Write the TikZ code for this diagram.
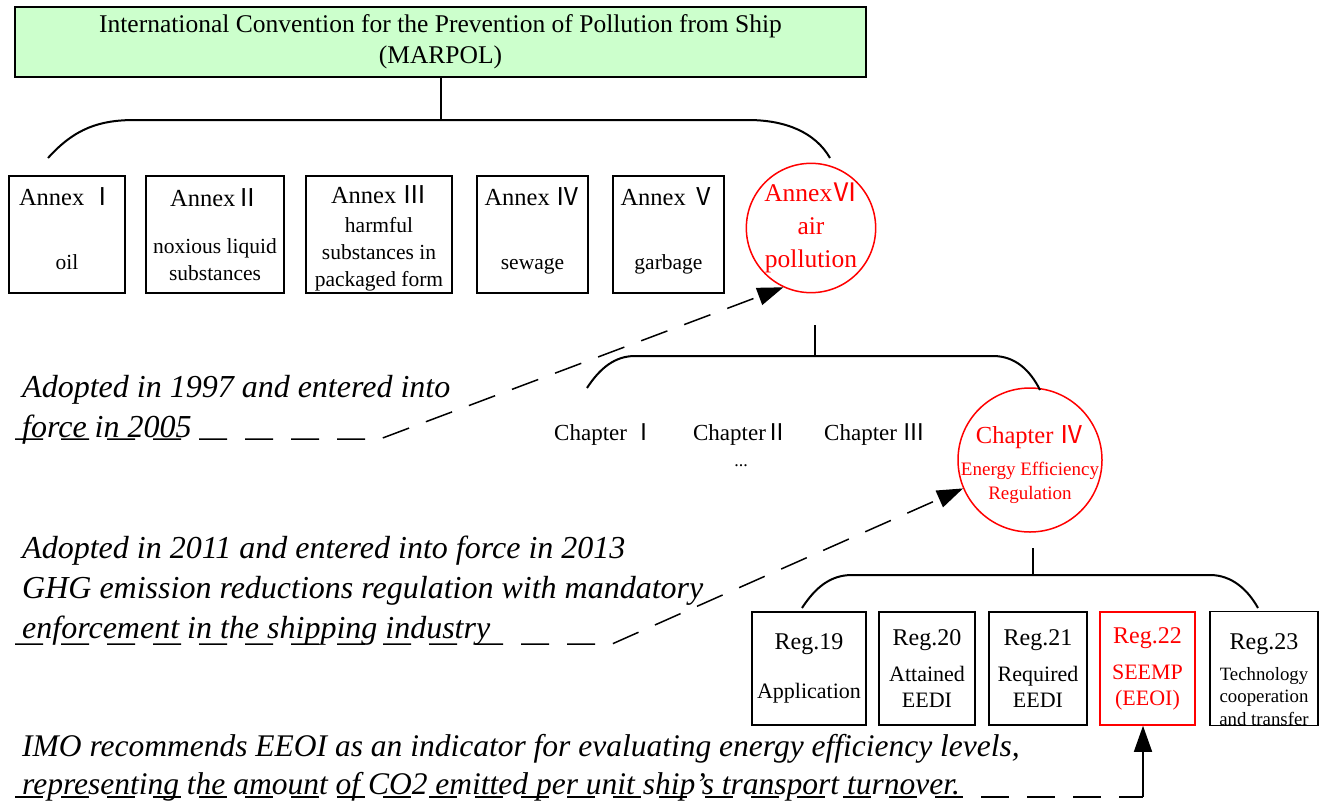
\documentclass[tikz,border=0pt]{standalone}
\usepackage{fontspec}
\setmainfont{Liberation Serif}
\newfontfamily\romfont{Noto Sans CJK SC}
\usetikzlibrary{arrows.meta}
\usetikzlibrary{positioning}
\definecolor{titlegreen}{RGB}{204,255,204}
\newcommand{\bigline}{\fontsize{24.5}{27}\selectfont}
\newcommand{\regline}{\fontsize{24}{28}\selectfont}
\tikzstyle{title_box} = [
    draw=black,
    fill=titlegreen,
    line width=1.5pt,
    align=center,
    inner sep=0pt,
    minimum width=851pt,
    minimum height=70pt,
    font=\fontsize{25.5}{31}\selectfont
]
\tikzstyle{annex_box} = [
    draw=black,
    line width=1.5pt,
    align=center,
    inner sep=0pt,
    minimum height=117pt,
    font=\fontsize{21.5}{27}\selectfont
]
\tikzstyle{reg_box} = [
    draw=black,
    line width=1.5pt,
    align=center,
    inner sep=0pt,
    minimum height=113pt,
    font=\fontsize{22}{26}\selectfont
]
\tikzstyle{red_circle} = [
    circle,
    draw=red,
    text=red,
    line width=1.5pt,
    align=center,
    inner sep=0pt
]
\tikzstyle{chapter} = [
    inner sep=0pt,
    font=\fontsize{23}{27}\selectfont
]
\tikzstyle{note_text} = [
    anchor=base west,
    align=left,
    inner sep=0pt,
    font=\fontsize{32}{40}\selectfont\itshape
]
\tikzstyle{brace} = [
    line width=2pt
]
\tikzstyle{note_line} = [
    line width=1.5pt,
    dash pattern=on 28pt off 18pt
]
\tikzstyle{note_arrow} = [
    note_line,
    -{Triangle[length=26pt, width=18pt]}
]

\begin{document}
\begin{tikzpicture}[x=1pt, y=-1pt]
\useasboundingbox (0,0) rectangle (1325,806);

\node [title_box] (marpol) at (440.5,42)
    {International Convention for the Prevention of Pollution from Ship\\(MARPOL)};

% annexes
\node [annex_box, minimum width=116pt] (annex1) at (67,234.5)
    {{\bigline Annex {\romfont Ⅰ}}\\[37pt]oil\rule[-12pt]{0pt}{1pt}};
\node [annex_box, minimum width=138pt] (annex2) at (215,234.5)
    {{\bigline Annex{\romfont Ⅱ}}\\[20pt]noxious liquid\\substances};
\node [annex_box, minimum width=146pt] (annex3) at (379,234.5)
    {{\bigline Annex {\romfont Ⅲ}}\rule{0pt}{26pt}\\[2pt]harmful\\substances in\\packaged form};
\node [annex_box, minimum width=111pt] (annex4) at (532.5,234.5)
    {{\bigline Annex {\romfont Ⅳ}}\\[37pt]sewage\rule[-12pt]{0pt}{1pt}};
\node [annex_box, minimum width=111pt] (annex5) at (668.5,234.5)
    {{\bigline Annex {\romfont Ⅴ}}\\[37pt]garbage\rule[-12pt]{0pt}{1pt}};
\node [red_circle, minimum size=126pt, font=\fontsize{25.5}{33}\selectfont] (annex6) at (811,228)
    {Annex{\romfont Ⅵ}\\air\\pollution};

\coordinate (top_left) at (48,158);
\coordinate (top_right) at (830,158);
\draw [brace] (marpol.south) -- ++(0,43);
\draw [brace] (top_left) .. controls (75,128) and (100,120) .. (135,120)
    -- (748,120) .. controls (785,120) and (815,132) .. (top_right);

% chapters
\node [chapter] (chap1) at (605,435) {Chapter {\romfont Ⅰ}};
\node [chapter] (chap2) at (741,435) {Chapter{\romfont Ⅱ}};
\node [chapter] (chap3) at (875,435) {Chapter {\romfont Ⅲ}};
\node [chapter, font=\fontsize{18}{20}\selectfont] (dots) at (741,466) {...};
\node [red_circle, minimum size=144pt, inner sep=-11pt, font=\fontsize{19}{24}\selectfont] (chap4) at (1030,460)
    {{\bigline Chapter {\romfont Ⅳ}}\rule{0pt}{28pt}\\[8pt]Energy Efficiency\\Regulation};

\coordinate (chap_top) at (815,325);
\coordinate (chap_left) at (587,388);
\coordinate (chap_right) at (1040,390);
\draw [brace] (chap_top) -- (815,356);
\draw [brace] (chap_left) .. controls (600,368) and (615,356) .. (635,356)
    -- (993,356) .. controls (1015,356) and (1030,370) .. (chap_right);

% regulations
\node [reg_box, minimum width=114pt] (reg19) at (809,668.5)
    {{\regline Reg.19}\\[23pt]Application};
\node [reg_box, minimum width=96pt] (reg20) at (927,668.5)
    {{\regline Reg.20}\\[10pt]Attained\\EEDI};
\node [reg_box, minimum width=98pt] (reg21) at (1038,668.5)
    {{\regline Reg.21}\\[10pt]Required\\EEDI};
\node [reg_box, minimum width=95pt, draw=red, text=red] (reg22) at (1147.5,668.5)
    {{\regline Reg.22}\\[10pt]SEEMP\\(EEOI)};
\node [reg_box, minimum width=108pt, font=\fontsize{18.8}{22.5}\selectfont] (reg23) at (1264,668.5)
    {{\regline Reg.23}\rule{0pt}{38pt}\\[8.5pt]Technology\\cooperation\\and transfer};

\coordinate (reg_top) at (1033,548);
\coordinate (reg_left) at (802,608);
\coordinate (reg_right) at (1258,608);
\draw [brace] (reg_top) -- (1033,575);
\draw [brace] (reg_left) .. controls (815,588) and (830,575) .. (852,575)
    -- (1210,575) .. controls (1232,575) and (1248,590) .. (reg_right);

% notes
\node [note_text] (note1) at (22,437)
    {Adopted in 1997 and entered into\\force in 2005};
\node [note_text] (note2) at (22,638)
    {Adopted in 2011 and entered into force in 2013\\GHG emission reductions regulation with mandatory\\enforcement in the shipping industry};
\node [note_text, font=\fontsize{31.5}{38}\selectfont\itshape] (note3) at (22,794)
    {IMO recommends EEOI as an indicator for evaluating energy efficiency levels,\\representing the amount of CO2 emitted per unit ship's transport turnover.};

\coordinate (under1) at (15,439);
\coordinate (under2) at (15,644);
\coordinate (under3) at (15,797);
\coordinate (turn3) at (1143,797);
\draw [note_arrow] (under1) -- (380,439) -- (annex6.245);
\draw [note_arrow] (under2) -- (612,644) -- (chap4.203);
\draw [note_line] (under3) -- (turn3);
\draw [line width=1.5pt, -{Triangle[length=26pt, width=18pt]}] (turn3) -- (turn3 |- reg22.south);
\end{tikzpicture}
\end{document}
